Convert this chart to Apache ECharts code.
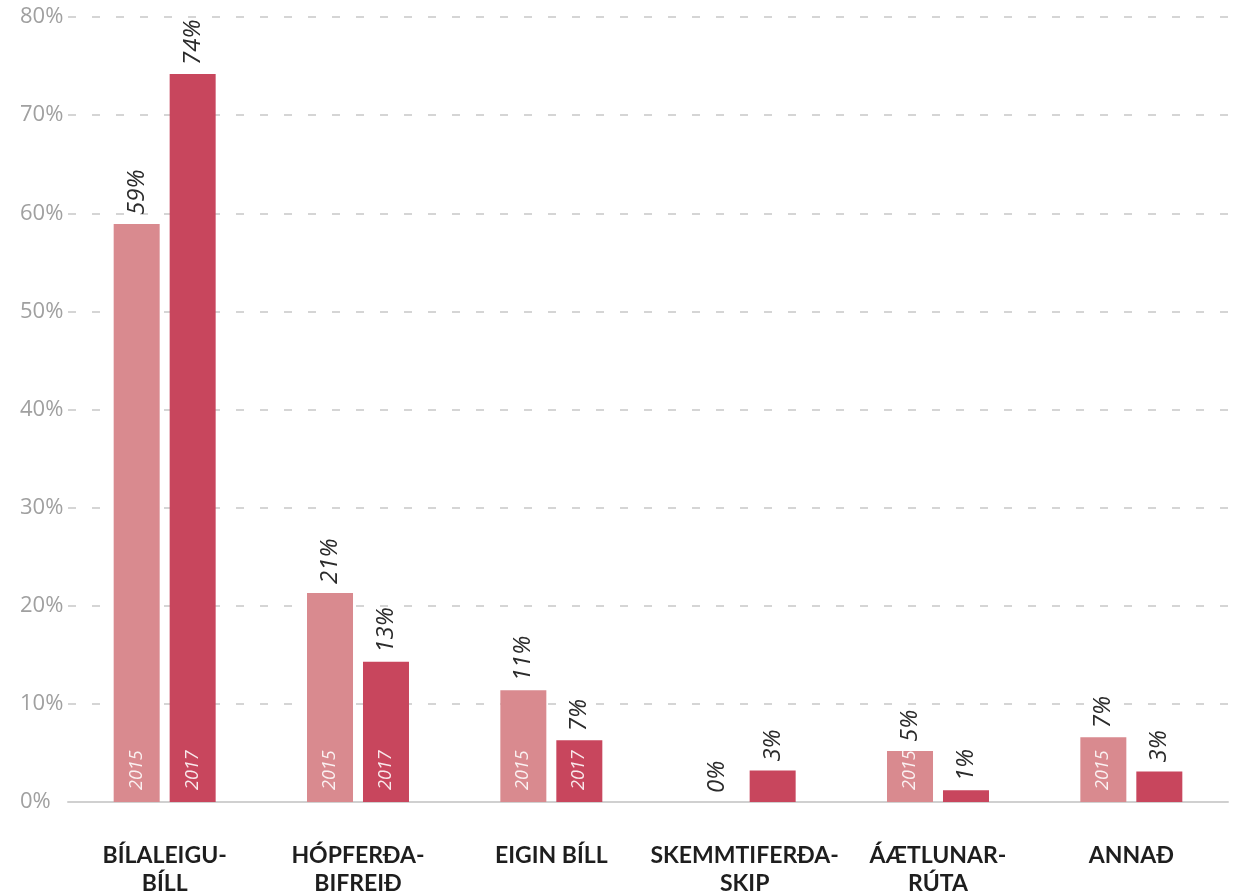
<!DOCTYPE html>
<html>
<head>
<meta charset="utf-8">
<script src="https://cdn.jsdelivr.net/npm/echarts@6/dist/echarts.min.js"></script>
<style>
  html, body { margin: 0; padding: 0; background: #fff; }
  #main { width: 1236px; height: 895px; }
</style>
</head>
<body>
<div id="main"></div>
<script>
const categories = [
  "BÍLALEIGU-\nBÍLL",
  "HÓPFERÐA-\nBIFREIÐ",
  "EIGIN BÍLL",
  "SKEMMTIFERÐA-\nSKIP",
  "ÁÆTLUNAR-\nRÚTA",
  "ANNAÐ"
];
const years = ["2015", "2017"];
const values2015 = [58.9, 21.3, 11.4, 0, 5.2, 6.6];
const values2017 = [74.2, 14.3, 6.3, 3.2, 1.2, 3.1];
const labels2015 = ["59%", "21%", "11%", "0%", "5%", "7%"];
const labels2017 = ["74%", "13%", "7%", "3%", "1%", "3%"];
const yTicks = [0, 10, 20, 30, 40, 50, 60, 70, 80];

const colors = ["#d98a8f", "#c8465d"];
const BAR_W = 46;
const BAR_GAP = (10 / 46 * 100).toFixed(1) + "%";

const chart = echarts.init(document.getElementById("main"));

// bar with its value label above
function valueSeries(name, values, labels, color) {
  return {
    name: name,
    type: "bar",
    xAxisIndex: 0,
    barWidth: BAR_W,
    barGap: BAR_GAP,
    itemStyle: { color: color },
    data: values,
    label: {
      show: true,
      position: "top",
      rotate: 90,
      align: "left",
      verticalAlign: "middle",
      distance: 9,
      fontFamily: "Open Sans",
      fontStyle: "italic",
      fontSize: 24,
      color: "#2b2b2b",
      formatter: (p) => labels[p.dataIndex]
    }
  };
}

// transparent twin carrying the year text inside the bar
function yearSeries(year, values) {
  return {
    name: year + "-year",
    type: "bar",
    xAxisIndex: 1,
    barWidth: BAR_W,
    barGap: BAR_GAP,
    itemStyle: { color: "transparent" },
    silent: true,
    z: 5,
    data: values,
    label: {
      show: true,
      position: "insideBottom",
      rotate: 90,
      align: "left",
      verticalAlign: "middle",
      distance: 12,
      fontFamily: "Open Sans",
      fontStyle: "italic",
      fontSize: 18,
      color: "rgba(255,255,255,0.88)",
      formatter: (p) => (p.value >= 4 ? year : "")
    }
  };
}

chart.setOption({
  animation: false,
  backgroundColor: "#fff",
  grid: {
    left: 68, right: 8, top: 17, bottom: 93,
    containLabel: false,
    outerBoundsMode: "none"
  },
  xAxis: [
    {
      type: "category",
      data: categories,
      axisLine: { lineStyle: { color: "#d0d0d0", width: 2 } },
      axisTick: { show: false },
      axisLabel: {
        margin: 40,
        interval: 0,
        fontFamily: "Lato",
        fontWeight: "bold",
        fontSize: 23,
        lineHeight: 28,
        color: "#1e1e1e"
      }
    },
    {
      type: "category",
      data: categories,
      show: false
    }
  ],
  yAxis: {
    type: "value",
    min: yTicks[0],
    max: yTicks[yTicks.length - 1],
    interval: 10,
    axisLine: { show: false },
    axisTick: { show: false },
    axisLabel: {
      formatter: "{value}%",
      align: "left",
      margin: 48,
      padding: [0, 0, 12, 0],
      fontFamily: "Open Sans",
      fontSize: 22,
      color: "#a0a0a0"
    },
    splitLine: {
      lineStyle: { color: "#c8c8c8", width: 1.5, type: [8, 16] }
    }
  },
  series: [
    valueSeries(years[0], values2015, labels2015, colors[0]),
    valueSeries(years[1], values2017, labels2017, colors[1]),
    yearSeries(years[0], values2015),
    yearSeries(years[1], values2017)
  ]
});
</script>
</body>
</html>
